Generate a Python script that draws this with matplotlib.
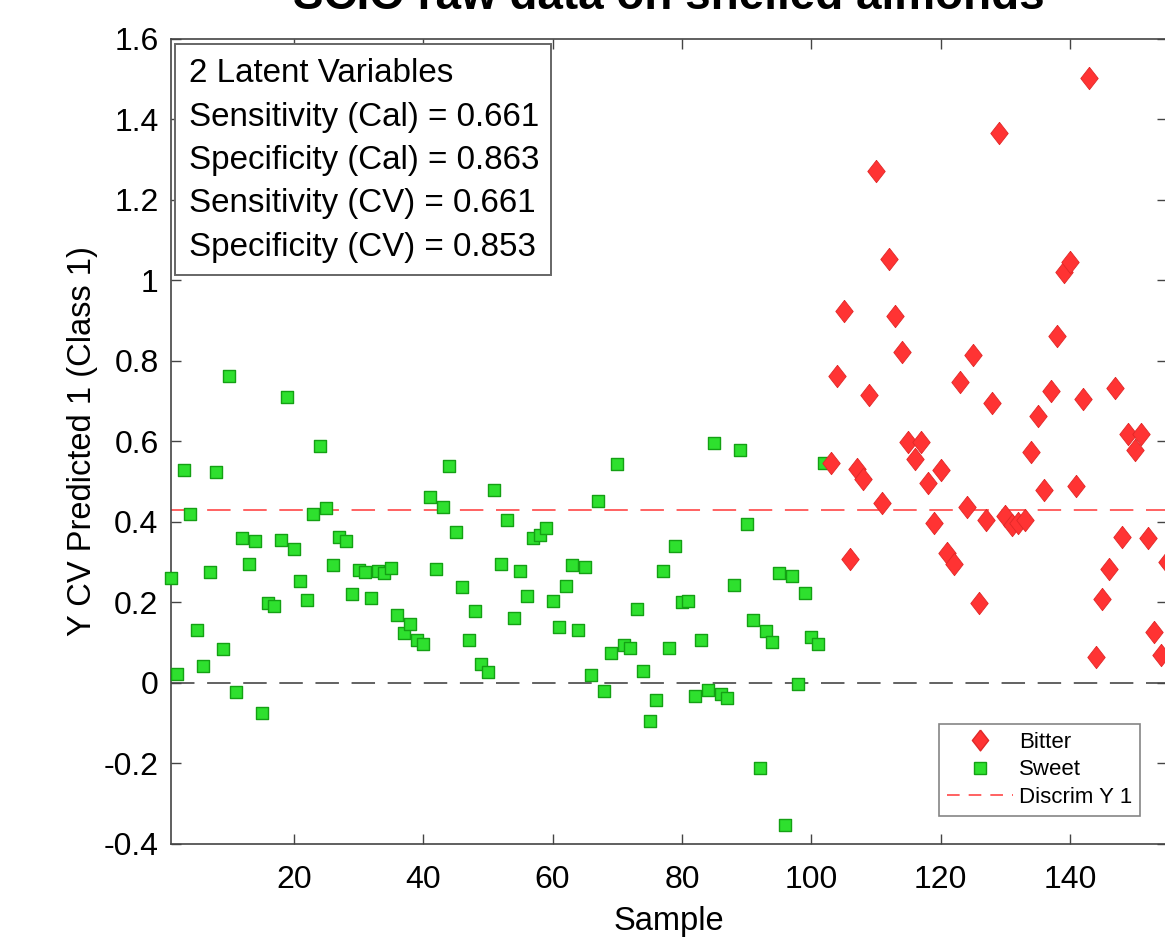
import numpy as np
import matplotlib
matplotlib.use("Agg")
import matplotlib.pyplot as plt
from matplotlib.patches import Rectangle
from matplotlib.lines import Line2D
from matplotlib.ticker import FuncFormatter

plt.rcParams['font.family'] = ['Liberation Sans', 'DejaVu Sans']

title = "SCIO raw data on shelled almonds"
stats_lines = ["2 Latent Variables",
               "Sensitivity (Cal) = 0.661",
               "Specificity (Cal) = 0.863",
               "Sensitivity (CV) = 0.661",
               "Specificity (CV) = 0.853"]
discrim = 0.43

# sweet samples 1..102
sweet_vals = [0.259, 0.022, 0.529, 0.419, 0.132, 0.042, 0.276, 0.523, 0.084, 0.763,
              -0.024, 0.359, 0.296, 0.352, -0.076, 0.198, 0.191, 0.354, 0.710, 0.331,
              0.253, 0.205, 0.418, 0.588, 0.435, 0.292, 0.362, 0.351, 0.220, 0.279,
              0.276, 0.210, 0.277, 0.273, 0.285, 0.167, 0.123, 0.147, 0.107, 0.096,
              0.461, 0.282, 0.437, 0.539, 0.374, 0.237, 0.107, 0.177, 0.046, 0.027,
              0.480, 0.296, 0.403, 0.160, 0.278, 0.215, 0.360, 0.366, 0.385, 0.203,
              0.138, 0.241, 0.292, 0.131, 0.287, 0.020, 0.451, -0.020, 0.073, 0.543,
              0.094, 0.087, 0.183, 0.030, -0.096, -0.042, 0.277, 0.085, 0.340, 0.200,
              0.204, -0.034, 0.106, -0.018, 0.596, -0.028, -0.038, 0.243, 0.577, 0.395,
              0.156, -0.213, 0.128, 0.102, 0.273, -0.354, 0.264, -0.003, 0.224, 0.114,
              0.096, 0.545]
# bitter samples 103..155
bitter_vals = [0.547, 0.763, 0.924, 0.308, 0.531, 0.506, 0.714, 1.271, 0.446, 1.053,
               0.911, 0.821, 0.597, 0.555, 0.598, 0.495, 0.397, 0.528, 0.323, 0.294,
               0.746, 0.436, 0.815, 0.199, 0.405, 0.695, 1.365, 0.415, 0.392, 0.396,
               0.405, 0.574, 0.662, 0.478, 0.725, 0.861, 1.020, 1.045, 0.488, 0.706,
               1.503, 0.063, 0.208, 0.283, 0.733, 0.362, 0.619, 0.578, 0.619, 0.359,
               0.127, 0.068, 0.301]

sweet_x = np.arange(1, len(sweet_vals) + 1)
bitter_x = np.arange(len(sweet_vals) + 1, len(sweet_vals) + len(bitter_vals) + 1)

W, H = 1165, 939
fig = plt.figure(figsize=(W / 100, H / 100), dpi=100)

def fx(px):
    return px / W

def fy(py):
    return 1 - py / H

ax = fig.add_axes([fx(171), fy(843.7), fx(996), 805 / H])

diamond = [(0, 1), (0.78, 0), (0, -1), (-0.78, 0), (0, 1)]

ax.axhline(0, color='#555555', lw=1.3, dashes=(13, 7), zorder=1)
ax.axhline(discrim, color='#ff5555', lw=1.3, dashes=(13, 7), zorder=1)

ax.scatter(sweet_x, sweet_vals, marker='s', s=80, facecolor='#2ee02e',
           edgecolor='#14a014', linewidths=1.0, zorder=3, clip_on=False)
ax.scatter(bitter_x, bitter_vals, marker=diamond, s=260, facecolor='#ff3333',
           edgecolor='#e02828', linewidths=0.6, zorder=3, clip_on=False)

ax.set_xlim(1, 155)
ax.set_ylim(-0.4, 1.6)
ax.set_xticks([20, 40, 60, 80, 100, 120, 140])
ax.set_yticks(np.arange(-0.4, 1.61, 0.2))
ax.yaxis.set_major_formatter(FuncFormatter(lambda v, p: f"{round(v, 1):g}"))
ax.tick_params(direction='in', length=7, width=1, color='#444444',
               labelsize=23, top=True, right=True)
ax.tick_params(axis='x', pad=15)
ax.tick_params(axis='y', pad=9)
for sp in ax.spines.values():
    sp.set_color('#444444')
    sp.set_linewidth(1.2)

ax.set_xlabel("Sample", fontsize=23.5, labelpad=8)
ax.set_ylabel("Y CV Predicted 1 (Class 1)", fontsize=23.5, labelpad=4)

fig.text(fx(669), fy(9), title, ha='center', va='baseline',
         fontsize=33, fontweight='bold')

# statistics box
fig.patches.append(Rectangle((fx(175), fy(275)), fx(376), (275 - 44) / H,
                             transform=fig.transFigure, facecolor='white',
                             edgecolor='#666666', lw=1.4, zorder=5))
for i, line in enumerate(stats_lines):
    fig.text(fx(189), fy(74 + i * 43.3), line, ha='left', va='center',
             fontsize=23.9, zorder=6)

handles = [Line2D([], [], ls='none', marker=diamond, ms=15, mfc='#ff3333', mec='#e02828'),
           Line2D([], [], ls='none', marker='s', ms=8, mfc='#2ee02e', mec='#14a014'),
           Line2D([], [], color='#ff5555', lw=1.3, dashes=(7, 5))]
leg = ax.legend(handles, ["Bitter", "Sweet", "Discrim Y 1"], loc='upper left',
                bbox_to_anchor=(fx(939), fy(724)), bbox_transform=fig.transFigure,
                fontsize=16, frameon=True, fancybox=False, borderaxespad=0,
                handlelength=3.0, handletextpad=0.25, labelspacing=0.3,
                borderpad=0.35)
leg.get_frame().set_edgecolor('#666666')
leg.get_frame().set_linewidth(1.2)

fig.savefig("out.png", dpi=100)
